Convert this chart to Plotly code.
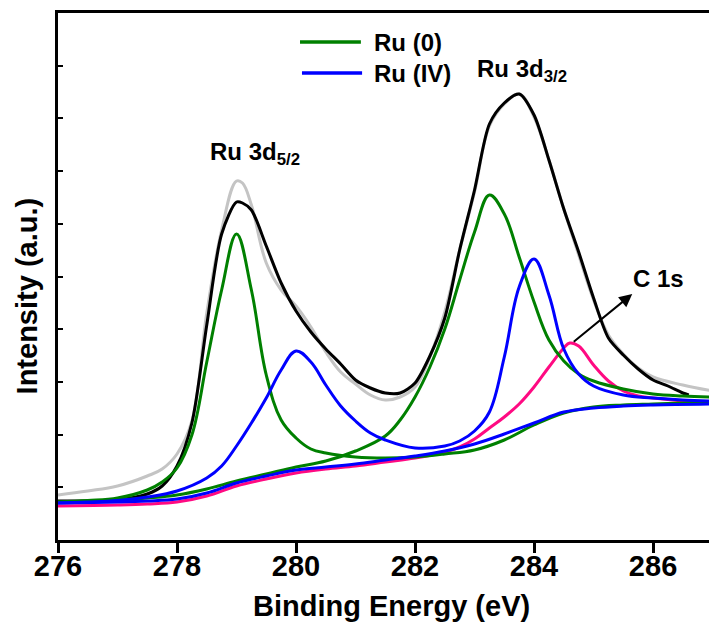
import plotly.graph_objects as go

# ---------------- data (Binding energy in eV, intensity in a.u.) ----------------
x_data = [276, 276.5, 277, 277.5, 277.75, 278, 278.25, 278.5, 278.75, 279, 279.1, 279.25, 279.5, 279.75,
          280, 280.25, 280.5, 280.75, 281, 281.25, 281.5, 281.75, 282, 282.25, 282.5, 282.75, 283,
          283.25, 283.5, 283.75, 284, 284.25, 284.5, 284.75, 285, 285.25, 285.5, 285.75, 286, 286.25,
          286.5, 286.6]
y_data = [39, 39, 40, 46, 54, 74, 117, 215, 306, 338, 337, 330, 294, 257,
          229, 208, 191, 176, 160, 152, 147, 147, 157, 184, 222, 290, 350,
          416, 437, 446, 425, 380, 331, 288, 242, 202, 185, 171, 160, 154,
          147, 145]

x_env = [276, 276.5, 277, 277.5, 277.75, 278, 278.25, 278.5, 278.75, 279, 279.1, 279.25, 279.5, 279.75,
         280, 280.25, 280.5, 280.75, 281, 281.25, 281.5, 281.75, 282, 282.25, 282.5, 282.75, 283,
         283.25, 283.5, 283.75, 284, 284.25, 284.5, 284.75, 285, 285.25, 285.5, 285.75, 286, 286.5, 287]
y_env = [45, 49, 54, 64, 71, 86, 119, 227, 310, 359, 357, 335, 277, 250,
         234, 213, 188, 168, 156, 145, 140, 143, 153, 183, 228, 290, 348,
         414, 436, 446, 423, 380, 331, 285, 240, 205, 186, 172, 163, 155, 149]

x_ru0_a = [276, 276.5, 277, 277.5, 277.75, 278, 278.25, 278.5, 278.75, 279, 279.25, 279.5, 279.75,
           280, 280.25, 280.5, 281, 281.5, 282, 282.5, 283, 283.5, 284, 284.5, 285, 285.5, 286, 286.5, 287]
y_ru0_a = [38, 39.5, 42, 50, 58, 72, 105, 178, 250, 306, 250, 165, 120,
           102, 91, 87, 83, 82, 83, 86, 90, 100, 115, 127, 133, 135, 136, 137, 138]

x_ru0_b = [276, 276.5, 277, 277.5, 278, 278.5, 279, 279.5, 280, 280.5, 281, 281.5, 281.75, 282,
           282.25, 282.5, 282.75, 283, 283.25, 283.5, 283.75, 284, 284.25, 284.5, 284.75, 285,
           285.5, 286, 286.5, 287]
y_ru0_b = [38, 38.5, 40, 42, 45, 51, 59, 66, 73, 79, 89, 104, 120, 143,
           173, 211, 260, 308, 345, 326, 283, 238, 200, 179, 166, 159,
           151, 146, 144, 143]

x_ru4 = [276, 276.5, 277, 277.5, 278, 278.5, 278.75, 279, 279.25, 279.5, 279.75, 280, 280.25,
         280.5, 280.75, 281, 281.25, 281.5, 282, 282.5, 282.75, 283, 283.25, 283.5, 283.75, 284, 284.25,
         284.5, 284.75, 285, 285.5, 286, 286.5, 287]
y_ru4 = [37, 38, 39.5, 43, 49, 62, 74, 94, 117, 142, 170, 189, 178,
         155, 134, 119, 107, 100, 92, 94, 99, 109, 128, 183, 253, 281, 245,
         191, 166, 154, 145, 142, 140, 139]

x_c1s = [276, 277, 277.5, 278, 278.5, 279, 279.5, 280, 280.5, 281, 281.5, 282, 282.5, 282.75,
         283, 283.25, 283.5, 283.75, 284, 284.25, 284.5, 284.6, 284.75, 285, 285.25, 285.5,
         285.75, 286, 286.5, 287]
y_c1s = [34, 35, 36, 38, 44, 54, 61, 67, 71, 74, 78, 82, 88, 93,
         101, 112, 123, 136, 153, 173, 192, 197, 194, 175, 159, 149,
         144, 142, 139, 137]

x_bg = [276, 277, 277.5, 278, 278.5, 279, 279.5, 280, 280.5, 281, 281.5, 282, 282.5, 283,
        283.5, 284, 284.5, 285, 285.5, 286, 287]
y_bg = [37, 38, 39, 41, 47, 57, 64, 70, 73, 76, 80, 84, 89, 96,
        106, 117, 128, 132, 134, 135, 136]

x_ticks = [276, 278, 280, 282, 284, 286]

GREEN = "#008000"
BLUE = "#0000FF"
PINK = "#FF0A82"
GRAY = "#C4C4C4"
SM = 1.1

fig = go.Figure()
fig.add_trace(go.Scatter(x=x_env, y=y_env, mode="lines", name="Envelope",
                         line=dict(color=GRAY, width=3, shape="spline", smoothing=SM)))
fig.add_trace(go.Scatter(x=x_data, y=y_data, mode="lines", name="Raw",
                         line=dict(color="black", width=3, shape="spline", smoothing=0.8)))
fig.add_trace(go.Scatter(x=x_c1s, y=y_c1s, mode="lines", name="C 1s",
                         line=dict(color=PINK, width=3, shape="spline", smoothing=SM)))
fig.add_trace(go.Scatter(x=x_ru0_b, y=y_ru0_b, mode="lines", name="Ru (0) 3d3/2",
                         line=dict(color=GREEN, width=3, shape="spline", smoothing=SM)))
fig.add_trace(go.Scatter(x=x_ru0_a, y=y_ru0_a, mode="lines", name="Ru (0)",
                         line=dict(color=GREEN, width=3, shape="spline", smoothing=SM)))
fig.add_trace(go.Scatter(x=x_bg, y=y_bg, mode="lines", name="Background",
                         line=dict(color=BLUE, width=3, shape="spline", smoothing=SM)))
fig.add_trace(go.Scatter(x=x_ru4, y=y_ru4, mode="lines", name="Ru (IV)",
                         line=dict(color=BLUE, width=3, shape="spline", smoothing=SM)))

FONT = "Liberation Sans, Arial, sans-serif"

annotations = [
    dict(text="Ru 3d<sub>5/2</sub>", x=278.52, y=387, xref="x", yref="y", xanchor="left",
         yanchor="middle", showarrow=False, font=dict(size=24)),
    dict(text="Ru 3d<sub>3/2</sub>", x=283.01, y=470, xref="x", yref="y", xanchor="left",
         yanchor="middle", showarrow=False, font=dict(size=24)),
    dict(text="C 1s", x=285.63, y=262, xref="x", yref="y", xanchor="left",
         yanchor="middle", showarrow=False, font=dict(size=24)),
    dict(text="", x=285.65, y=246, xref="x", yref="y", ax=-60, ay=49, showarrow=True,
         arrowhead=2, arrowsize=1.3, arrowwidth=2, arrowcolor="black"),
    dict(text="Ru (0)", x=281.28, y=498, xref="x", yref="y", xanchor="left",
         yanchor="middle", showarrow=False, font=dict(size=24)),
    dict(text="Ru (IV)", x=281.28, y=467, xref="x", yref="y", xanchor="left",
         yanchor="middle", showarrow=False, font=dict(size=24)),
    dict(text="Binding Energy (eV)", x=281.6, y=-0.126, xref="x", yref="paper",
         xanchor="center", yanchor="middle", showarrow=False, font=dict(size=29)),
    dict(text="Intensity (a.u.)", x=-0.047, y=244, xref="paper", yref="y", textangle=-90,
         xanchor="center", yanchor="middle", showarrow=False, font=dict(size=29)),
]

shapes = [
    dict(type="line", xref="x", yref="y", x0=280.067, x1=281.09, y0=498, y1=498,
         line=dict(color=GREEN, width=3.5)),
    dict(type="line", xref="x", yref="y", x0=280.10, x1=281.11, y0=467, y1=467,
         line=dict(color=BLUE, width=3.5)),
]

fig.update_layout(
    width=709, height=625,
    margin=dict(l=58, r=0, t=13, b=85),
    paper_bgcolor="white", plot_bgcolor="white",
    showlegend=False,
    font=dict(family=FONT, color="black", weight="bold"),
    annotations=annotations,
    shapes=shapes,
    xaxis=dict(range=[276, 286.94], tickvals=x_ticks, ticktext=[str(v) for v in x_ticks],
               ticks="outside", ticklen=10, tickwidth=3, tickcolor="black",
               ticklabelstandoff=-12,
               showline=True, linewidth=3, linecolor="black", mirror=True,
               showgrid=False, zeroline=False, tickfont=dict(size=29)),
    yaxis=dict(range=[0, 527], tick0=0, dtick=52.7, ticks="inside", ticklen=5, tickwidth=2,
               tickcolor="black", showticklabels=False,
               showline=True, linewidth=3, linecolor="black", mirror=False,
               showgrid=False, zeroline=False),
)

fig.write_html("out.html")
